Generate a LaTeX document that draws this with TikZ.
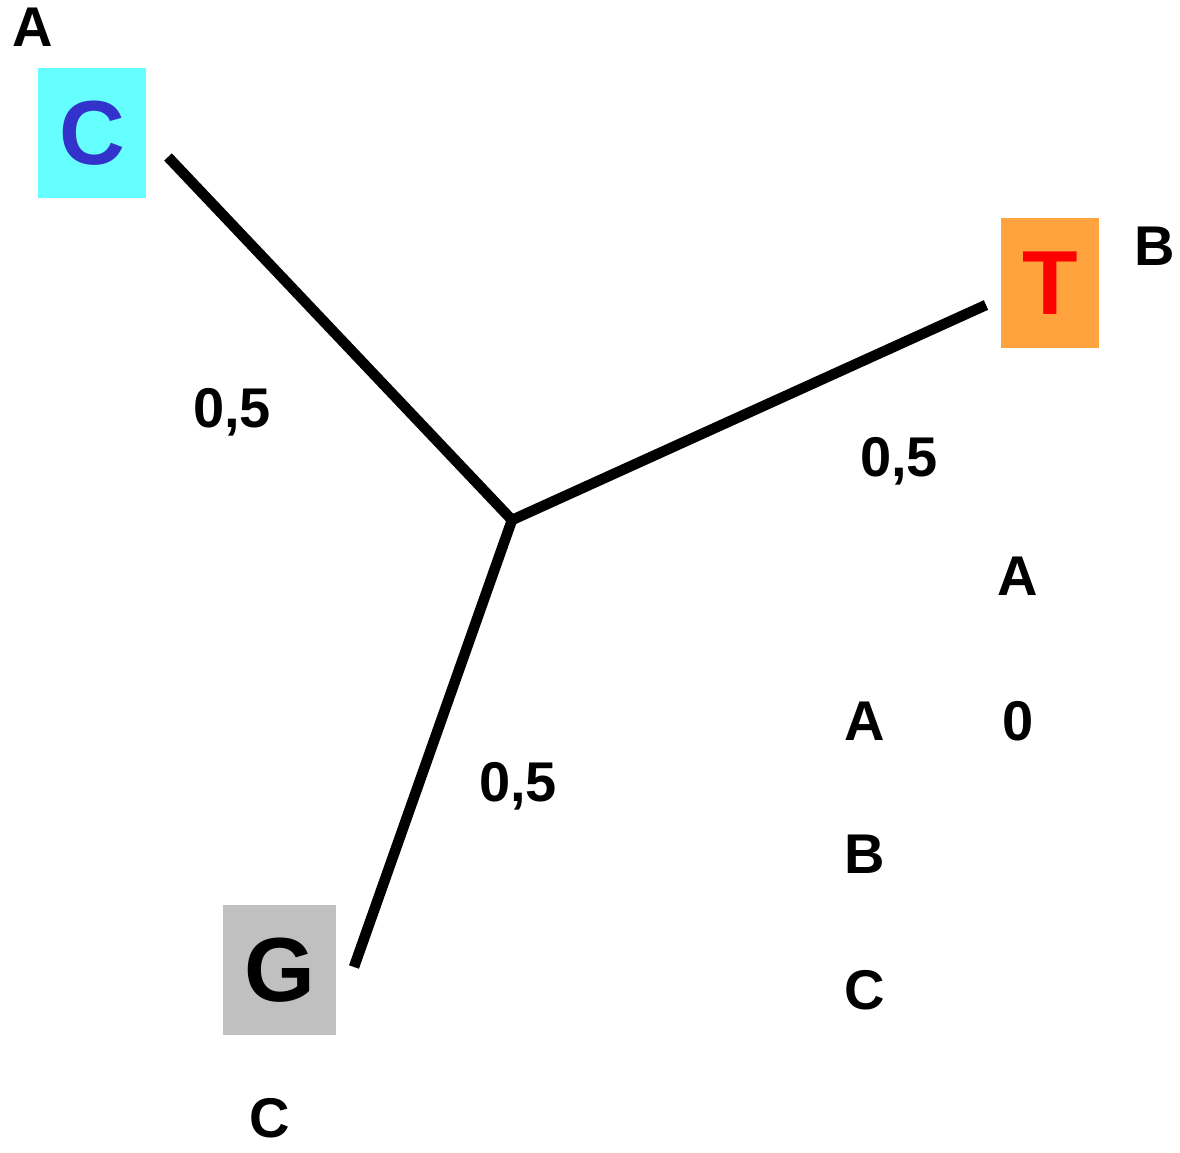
\documentclass[tikz,border=0pt]{standalone}
\usepackage{fontspec}
\setmainfont{Liberation Sans}
\definecolor{boxcyan}{HTML}{66FFFF}
\definecolor{boxorange}{HTML}{FFA33F}
\definecolor{boxgray}{HTML}{C0C0C0}
\definecolor{letterblue}{HTML}{3333CC}
\begin{document}
\begin{tikzpicture}[x=0.5pt,y=-0.5pt,
  base/.style={inner sep=0pt,outer sep=0pt},
  lbl/.style={base,anchor=base,font=\fontsize{28}{30}\selectfont\bfseries},
  leaf/.style={base,minimum height=65pt,font=\fontsize{45.5}{48}\selectfont\bfseries},
  branch/.style={line width=5.25pt,line cap=butt,line join=miter}]
\useasboundingbox (0,0) rectangle (1180,1153);

% leaf boxes
\node[leaf,fill=boxcyan,text=letterblue,minimum width=54pt] (lc) at (92,133) {C};
\node[leaf,fill=boxorange,text=red,minimum width=49pt] (lt) at (1050,283) {T};
\node[leaf,fill=boxgray,text=black,minimum width=56.5pt] (lg) at (279.5,970) {G};

% tree branches
\coordinate (hub) at (512,520);
\coordinate (ec) at (168,157);
\coordinate (et) at (986,305);
\coordinate (eg) at (354,967);
\draw[branch] (ec) -- (hub);
\draw[branch] (hub) -- (et);
\draw[branch] (hub) -- (eg);

% leaf names
\node[lbl] (na) at (33,46) {A};
\node[lbl] (nb) at (1155,265) {B};
\node[lbl] (nc) at (270,1137) {C};

% branch lengths
\node[lbl] (w1) at (232,427) {0,5};
\node[lbl] (w2) at (899,476) {0,5};
\node[lbl] (w3) at (518,801) {0,5};

% distance table
\node[lbl] (ta) at (1018,595) {A};
\node[lbl] (ra) at (865,740) {A};
\node[lbl] (v0) at (1018,740) {0};
\node[lbl] (rb) at (865,873) {B};
\node[lbl] (rc) at (865,1009) {C};
\end{tikzpicture}
\end{document}
